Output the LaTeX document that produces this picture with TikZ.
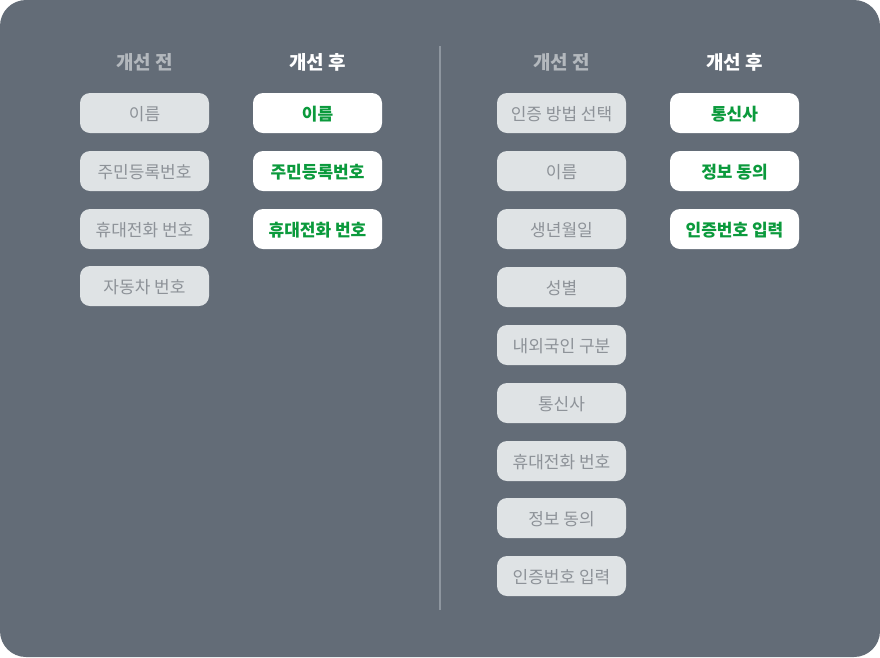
\documentclass[tikz,border=0pt]{standalone}
\usepackage{fontspec}
\setmainfont{Noto Sans CJK KR}
\definecolor{bg}{HTML}{636C77}
\definecolor{boxgray}{HTML}{DFE3E5}
\definecolor{txtgray}{HTML}{8D9298}
\definecolor{headgray}{HTML}{B3B8BD}
\definecolor{okgreen}{HTML}{0B9A3C}
\definecolor{divider}{HTML}{8E969F}
\tikzset{
  before/.style={draw=none, fill=boxgray, rounded corners=10pt, minimum width=129pt, minimum height=40pt, inner sep=0pt, text height=14.5pt, text depth=0pt, text=txtgray, font=\fontsize{17}{19}\selectfont},
  after/.style={draw=none, fill=white, rounded corners=10pt, minimum width=129pt, minimum height=40pt, inner sep=0pt, text height=14.5pt, text depth=0pt, text=okgreen, font=\fontsize{17}{19}\selectfont\bfseries},
  headb/.style={text=headgray, text height=15pt, text depth=0pt, font=\fontsize{19}{21}\selectfont\bfseries},
  heada/.style={text=white, text height=15pt, text depth=0pt, font=\fontsize{19}{21}\selectfont\bfseries},
}
\begin{document}
\begin{tikzpicture}[x=1pt,y=-1pt]
\fill[white] (0,0) rectangle (880,657);
\useasboundingbox (0,0) rectangle (880,657);
\fill[bg, rounded corners=26pt] (0,0) rectangle (880,657);
% headings
\node[headb] (h1) at (144.5,62) {개선 전};
\node[heada] (h2) at (317.5,62) {개선 후};
\node[headb] (h3) at (561.5,62) {개선 전};
\node[heada] (h4) at (734.5,62) {개선 후};
% divider
\coordinate (d1) at (440,46);
\coordinate (d2) at (440,610);
\draw[divider, line width=1.5pt] (d1) -- (d2);
% left before
\node[before] (a1) at (144.5,113) {이름};
\node[before] (a2) at (144.5,171) {주민등록번호};
\node[before] (a3) at (144.5,229) {휴대전화 번호};
\node[before] (a4) at (144.5,286) {자동차 번호};
% left after
\node[after] (b1) at (317.5,113) {이름};
\node[after] (b2) at (317.5,171) {주민등록번호};
\node[after] (b3) at (317.5,229) {휴대전화 번호};
% right before
\node[before] (c1) at (561.5,113) {인증 방법 선택};
\node[before] (c2) at (561.5,171) {이름};
\node[before] (c3) at (561.5,229) {생년월일};
\node[before] (c4) at (561.5,287) {성별};
\node[before] (c5) at (561.5,345) {내외국인 구분};
\node[before] (c6) at (561.5,403) {통신사};
\node[before] (c7) at (561.5,461) {휴대전화 번호};
\node[before] (c8) at (561.5,518) {정보 동의};
\node[before] (c9) at (561.5,576) {인증번호 입력};
% right after
\node[after] (e1) at (734.5,113) {통신사};
\node[after] (e2) at (734.5,171) {정보 동의};
\node[after] (e3) at (734.5,229) {인증번호 입력};
\end{tikzpicture}
\end{document}
